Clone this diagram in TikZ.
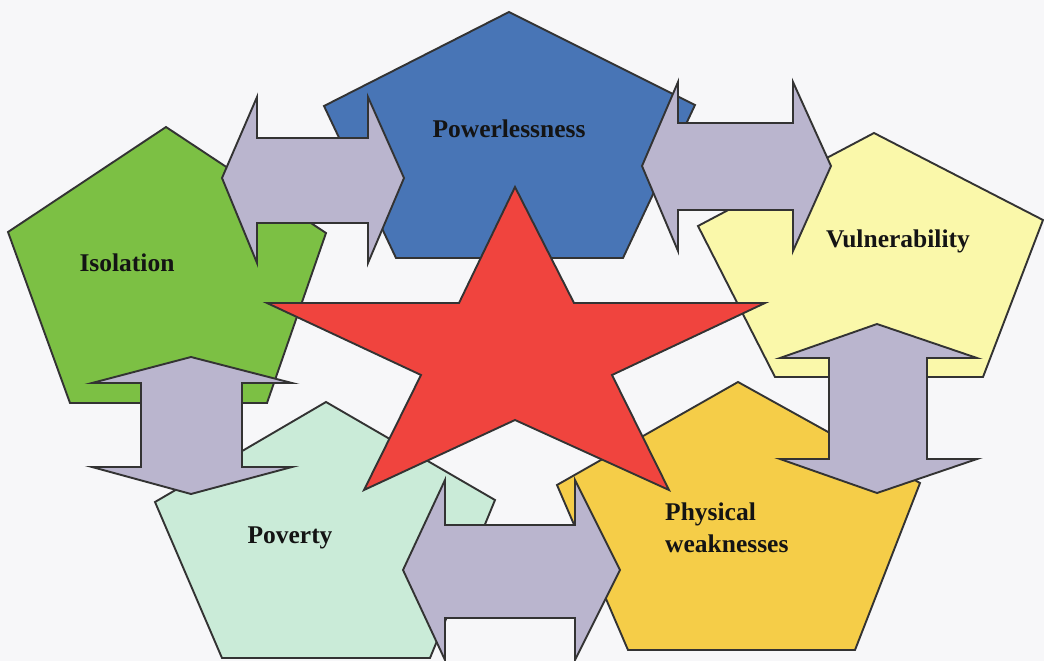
\documentclass[tikz,border=0pt]{standalone}
\usepackage{fontspec}
\setmainfont{Liberation Serif}
\begin{document}
\begin{tikzpicture}[x=1pt,y=-1pt,
  shape outline/.style={draw=black!80, line width=1.9pt, line join=miter},
  penta/.style={shape outline},
  blockarrow/.style={shape outline, fill=arrowfill},
  label/.style={font=\fontsize{25.5}{32}\selectfont\bfseries, text=black!92, inner sep=0pt}
]
\definecolor{bg}{RGB}{247,247,249}
\definecolor{greenfill}{RGB}{124,192,68}
\definecolor{bluefill}{RGB}{72,117,182}
\definecolor{yellowfill}{RGB}{250,248,170}
\definecolor{mintfill}{RGB}{202,235,216}
\definecolor{goldfill}{RGB}{245,205,72}
\definecolor{redfill}{RGB}{240,68,62}
\definecolor{arrowfill}{RGB}{186,181,206}

\fill[bg] (0,0) rectangle (1044,661);
\useasboundingbox (0,0) rectangle (1044,661);

% pentagons
\draw[penta, fill=greenfill] (166,127) -- (326,233) -- (267,403) -- (70,403) -- (8,232) -- cycle;
\draw[penta, fill=bluefill] (509,12) -- (695,105) -- (623,258) -- (396,258) -- (324,106) -- cycle;
\draw[penta, fill=goldfill] (738,382) -- (920,483) -- (855,650) -- (628,650) -- (557,485) -- cycle;
\draw[penta, fill=yellowfill] (874,133) -- (1043,220) -- (983,377) -- (775,377) -- (698,226) -- cycle;
\draw[penta, fill=mintfill] (326,402) -- (495,500) -- (430,658) -- (222,658) -- (155,502) -- cycle;

% star
\draw[shape outline, fill=redfill] (515,187) -- (574,303) -- (765,303) -- (612,375) -- (669,490)
  -- (515,420) -- (364,490) -- (421,375) -- (267,303) -- (459,303) -- cycle;

% block double arrows
\draw[blockarrow] (222,178) -- (257,97) -- (257,138) -- (368,138) -- (368,97) -- (404,178)
  -- (368,263) -- (368,223) -- (257,223) -- (257,263) -- cycle;
\draw[blockarrow] (642,166) -- (678,82) -- (678,123) -- (793,123) -- (793,82) -- (831,166)
  -- (793,251) -- (793,210) -- (678,210) -- (678,251) -- cycle;
\draw[blockarrow] (191,357) -- (292,383) -- (242,383) -- (242,467) -- (292,467) -- (191,494)
  -- (92,467) -- (141,467) -- (141,383) -- (92,383) -- cycle;
\draw[blockarrow] (877,324) -- (977,358) -- (927,358) -- (927,459) -- (977,459) -- (877,493)
  -- (780,459) -- (829,459) -- (829,358) -- (780,358) -- cycle;
\draw[blockarrow] (403,570) -- (445,480) -- (445,525) -- (575,525) -- (575,480) -- (620,570)
  -- (575,660) -- (575,618) -- (445,618) -- (445,660) -- cycle;

% labels
\node[label, anchor=base] (isolation) at (127,271) {Isolation};
\node[label, anchor=base] (powerlessness) at (509,137) {Powerlessness};
\node[label, anchor=base] (vulnerability) at (898,247) {Vulnerability};
\node[label, anchor=base] (poverty) at (290,543) {Poverty};
\node[label, anchor=base west, align=left] (physical) at (665,552) {Physical\\weaknesses};
\end{tikzpicture}
\end{document}
